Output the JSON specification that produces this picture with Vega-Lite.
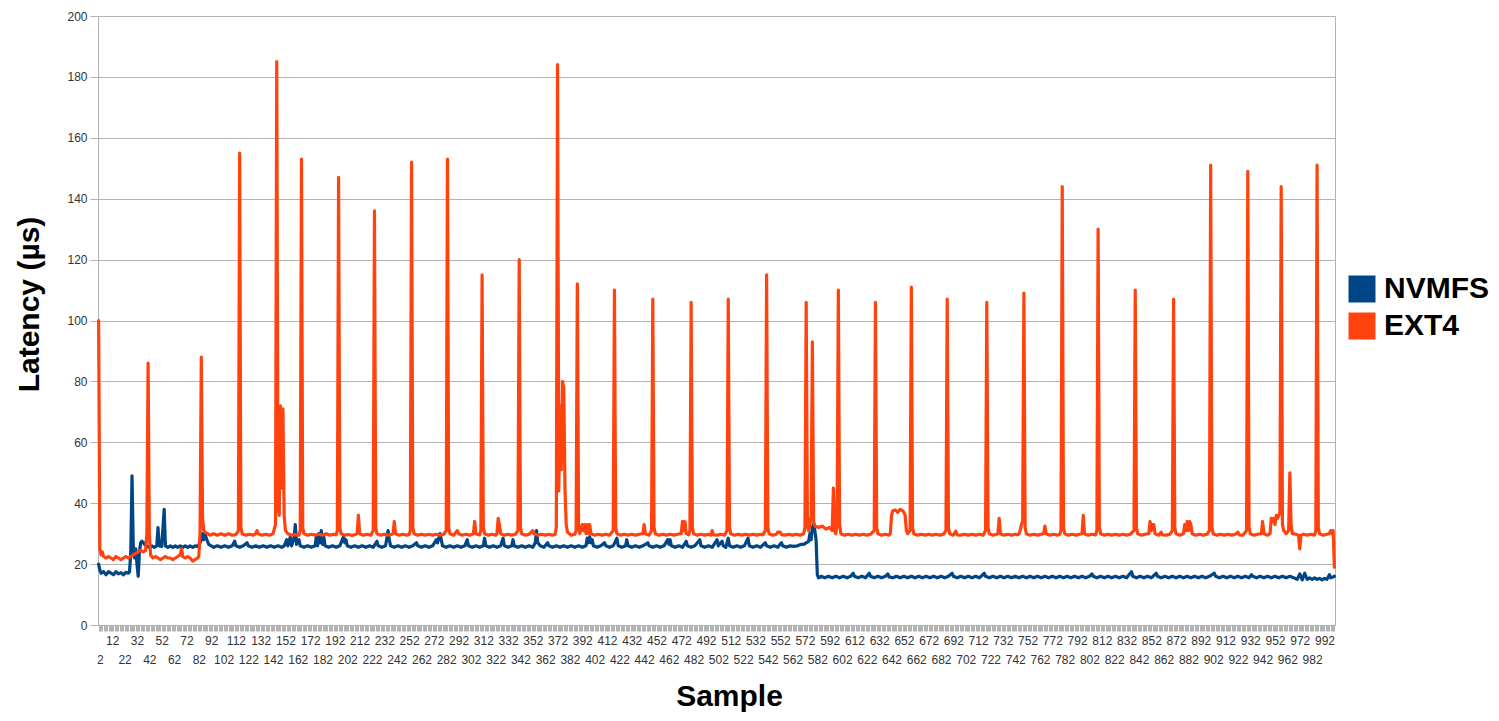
{
"$schema":"https://vega.github.io/schema/vega-lite/v6.json",
"width":1237,"height":609,
"autosize":"none",
"padding":{"left":98,"top":16,"right":164,"bottom":96},
"background":"white",
"config":{"view":{"stroke":"#b3b3b3","strokeWidth":1},"font":"Liberation Sans"},
"datasets":{
"nvmfs":[{"s":1,"v":20},{"s":2,"v":18},{"s":3,"v":17},{"s":5,"v":17.5},{"s":7,"v":16.5},{"s":9,"v":17.5},{"s":11,"v":17},{"s":13,"v":16.5},{"s":15,"v":17.5},{"s":17,"v":16.8},{"s":19,"v":17.2},{"s":21,"v":16.5},{"s":23,"v":17.3},{"s":25,"v":17},{"s":26,"v":17.5},{"s":27,"v":24},{"s":28,"v":49},{"s":29,"v":26},{"s":30,"v":22},{"s":31,"v":25},{"s":32,"v":20},{"s":33,"v":16},{"s":34,"v":24},{"s":35,"v":27},{"s":36,"v":27.5},{"s":37,"v":27.2},{"s":38,"v":26.5},{"s":40,"v":26},{"s":42,"v":25.5},{"s":44,"v":26},{"s":46,"v":25.5},{"s":48,"v":26},{"s":49,"v":32},{"s":50,"v":26},{"s":52,"v":25.8},{"s":54,"v":38},{"s":55,"v":26},{"s":57,"v":25.5},{"s":59,"v":26},{"s":61,"v":25.5},{"s":63,"v":26},{"s":65,"v":25.5},{"s":67,"v":26},{"s":69,"v":25.5},{"s":71,"v":26},{"s":73,"v":25.5},{"s":75,"v":26},{"s":77,"v":25.5},{"s":79,"v":26},{"s":81,"v":25.8},{"s":83,"v":27},{"s":84,"v":28},{"s":85,"v":30},{"s":86,"v":28},{"s":87,"v":30},{"s":88,"v":28.5},{"s":89,"v":27.5},{"s":90,"v":26.5},{"s":92,"v":26},{"s":94,"v":25.5},{"s":97,"v":26},{"s":100,"v":25.5},{"s":103,"v":26},{"s":106,"v":25.5},{"s":109,"v":26},{"s":111,"v":27.5},{"s":112,"v":26},{"s":115,"v":25.5},{"s":118,"v":26},{"s":121,"v":27},{"s":122,"v":26},{"s":125,"v":25.5},{"s":128,"v":26},{"s":131,"v":25.5},{"s":134,"v":26},{"s":137,"v":25.5},{"s":140,"v":26},{"s":143,"v":25.5},{"s":146,"v":26},{"s":149,"v":25.5},{"s":151,"v":26},{"s":153,"v":28},{"s":154,"v":26},{"s":156,"v":29},{"s":157,"v":26},{"s":159,"v":28.5},{"s":160,"v":33},{"s":161,"v":26.5},{"s":163,"v":28},{"s":164,"v":26},{"s":167,"v":25.5},{"s":170,"v":26},{"s":173,"v":25.5},{"s":176,"v":26},{"s":177,"v":29},{"s":178,"v":26},{"s":179,"v":30},{"s":180,"v":27},{"s":181,"v":31},{"s":182,"v":26.5},{"s":183,"v":29},{"s":184,"v":26},{"s":187,"v":25.5},{"s":190,"v":26},{"s":193,"v":25.5},{"s":196,"v":26},{"s":199,"v":29},{"s":200,"v":27},{"s":201,"v":28},{"s":202,"v":26},{"s":205,"v":25.5},{"s":208,"v":26},{"s":211,"v":25.5},{"s":214,"v":26},{"s":217,"v":25.5},{"s":220,"v":26},{"s":223,"v":25.5},{"s":226,"v":27.5},{"s":227,"v":26},{"s":230,"v":25.5},{"s":233,"v":26},{"s":235,"v":31},{"s":236,"v":28},{"s":237,"v":26},{"s":240,"v":25.5},{"s":243,"v":26},{"s":246,"v":25.5},{"s":249,"v":26},{"s":252,"v":25.5},{"s":255,"v":26},{"s":258,"v":27},{"s":259,"v":26},{"s":262,"v":25.5},{"s":265,"v":26},{"s":268,"v":25.5},{"s":271,"v":26},{"s":274,"v":28},{"s":275,"v":27},{"s":276,"v":28.5},{"s":277,"v":30},{"s":278,"v":28},{"s":279,"v":26},{"s":282,"v":25.5},{"s":285,"v":26},{"s":288,"v":25.5},{"s":291,"v":26},{"s":294,"v":25.5},{"s":297,"v":26},{"s":299,"v":28},{"s":300,"v":26},{"s":303,"v":25.5},{"s":306,"v":26},{"s":309,"v":25.5},{"s":312,"v":26},{"s":313,"v":28.5},{"s":314,"v":26},{"s":317,"v":25.5},{"s":320,"v":26},{"s":323,"v":25.5},{"s":326,"v":26},{"s":328,"v":28.5},{"s":329,"v":26},{"s":332,"v":25.5},{"s":335,"v":26},{"s":336,"v":28},{"s":337,"v":26},{"s":340,"v":25.5},{"s":343,"v":26},{"s":346,"v":25.5},{"s":349,"v":26},{"s":352,"v":25.5},{"s":354,"v":27},{"s":355,"v":31},{"s":356,"v":27},{"s":358,"v":26},{"s":361,"v":25.5},{"s":364,"v":27},{"s":365,"v":26},{"s":368,"v":25.5},{"s":371,"v":26},{"s":374,"v":25.5},{"s":377,"v":26},{"s":380,"v":25.5},{"s":383,"v":26},{"s":386,"v":25.5},{"s":389,"v":26},{"s":392,"v":25.5},{"s":395,"v":26},{"s":396,"v":28.5},{"s":397,"v":27},{"s":398,"v":29},{"s":399,"v":27},{"s":400,"v":28},{"s":401,"v":26},{"s":404,"v":25.5},{"s":407,"v":26},{"s":410,"v":27},{"s":411,"v":26},{"s":414,"v":25.5},{"s":417,"v":26},{"s":420,"v":28.5},{"s":421,"v":26},{"s":424,"v":25.5},{"s":427,"v":26},{"s":428,"v":28},{"s":429,"v":26},{"s":432,"v":25.5},{"s":435,"v":26},{"s":438,"v":25.5},{"s":441,"v":26},{"s":445,"v":27},{"s":446,"v":26},{"s":449,"v":25.5},{"s":452,"v":26},{"s":455,"v":25.5},{"s":458,"v":26},{"s":461,"v":28},{"s":462,"v":26.5},{"s":463,"v":28},{"s":464,"v":26},{"s":467,"v":25.5},{"s":470,"v":26},{"s":473,"v":25.5},{"s":476,"v":27.5},{"s":477,"v":26},{"s":480,"v":25.5},{"s":483,"v":26},{"s":487,"v":28},{"s":488,"v":26},{"s":491,"v":25.5},{"s":494,"v":26},{"s":497,"v":25.5},{"s":501,"v":28},{"s":502,"v":26},{"s":505,"v":27.5},{"s":506,"v":26},{"s":508,"v":25.5},{"s":510,"v":28.5},{"s":511,"v":26},{"s":514,"v":25.5},{"s":517,"v":26},{"s":520,"v":25.5},{"s":523,"v":26},{"s":526,"v":28.5},{"s":527,"v":26},{"s":530,"v":25.5},{"s":533,"v":26},{"s":536,"v":25.5},{"s":540,"v":27},{"s":541,"v":26},{"s":544,"v":25.5},{"s":547,"v":26},{"s":550,"v":25.5},{"s":553,"v":27},{"s":554,"v":26},{"s":557,"v":25.5},{"s":560,"v":26},{"s":563,"v":25.8},{"s":566,"v":26},{"s":569,"v":26.5},{"s":571,"v":26.5},{"s":573,"v":27},{"s":575,"v":27.5},{"s":576,"v":30},{"s":577,"v":28},{"s":578,"v":32},{"s":579,"v":33},{"s":580,"v":31},{"s":581,"v":28},{"s":582,"v":16.5},{"s":583,"v":15.5},{"s":585,"v":16},{"s":588,"v":15.5},{"s":591,"v":16},{"s":594,"v":15.5},{"s":597,"v":16},{"s":600,"v":15.5},{"s":603,"v":16},{"s":606,"v":15.5},{"s":609,"v":16},{"s":611,"v":17},{"s":612,"v":16},{"s":615,"v":15.5},{"s":618,"v":16},{"s":621,"v":15.5},{"s":624,"v":17},{"s":625,"v":16},{"s":628,"v":15.5},{"s":631,"v":16},{"s":634,"v":15.5},{"s":637,"v":16},{"s":639,"v":16.8},{"s":640,"v":15.8},{"s":643,"v":15.5},{"s":646,"v":16},{"s":649,"v":15.5},{"s":652,"v":16},{"s":655,"v":15.5},{"s":658,"v":16},{"s":661,"v":15.5},{"s":664,"v":16},{"s":667,"v":15.5},{"s":670,"v":16},{"s":673,"v":15.5},{"s":676,"v":16},{"s":679,"v":15.5},{"s":682,"v":16},{"s":685,"v":15.5},{"s":688,"v":16},{"s":691,"v":17},{"s":692,"v":16},{"s":695,"v":15.5},{"s":698,"v":16},{"s":701,"v":15.5},{"s":704,"v":16},{"s":707,"v":15.5},{"s":710,"v":16},{"s":713,"v":15.5},{"s":717,"v":17},{"s":718,"v":16},{"s":721,"v":15.5},{"s":724,"v":16},{"s":727,"v":15.5},{"s":730,"v":16},{"s":733,"v":15.5},{"s":736,"v":16},{"s":739,"v":15.5},{"s":742,"v":16},{"s":745,"v":15.5},{"s":748,"v":16},{"s":751,"v":15.5},{"s":754,"v":16},{"s":757,"v":15.5},{"s":760,"v":16},{"s":763,"v":15.5},{"s":766,"v":16},{"s":769,"v":15.5},{"s":772,"v":16},{"s":775,"v":15.5},{"s":778,"v":16},{"s":781,"v":15.5},{"s":784,"v":16},{"s":787,"v":15.5},{"s":790,"v":16},{"s":793,"v":15.5},{"s":796,"v":16},{"s":799,"v":15.5},{"s":802,"v":16},{"s":804,"v":16.8},{"s":805,"v":16},{"s":808,"v":15.5},{"s":811,"v":16},{"s":814,"v":15.5},{"s":817,"v":16},{"s":820,"v":15.5},{"s":823,"v":16},{"s":826,"v":15.5},{"s":829,"v":16},{"s":832,"v":15.5},{"s":836,"v":17.5},{"s":837,"v":16},{"s":840,"v":15.5},{"s":843,"v":16},{"s":846,"v":15.5},{"s":849,"v":16},{"s":852,"v":15.5},{"s":856,"v":17},{"s":857,"v":16},{"s":860,"v":15.5},{"s":863,"v":16},{"s":866,"v":15.5},{"s":869,"v":16},{"s":872,"v":15.5},{"s":875,"v":16},{"s":878,"v":15.5},{"s":881,"v":16},{"s":884,"v":15.5},{"s":887,"v":16},{"s":890,"v":15.5},{"s":893,"v":16},{"s":896,"v":15.5},{"s":899,"v":16},{"s":903,"v":17},{"s":904,"v":16},{"s":907,"v":15.5},{"s":910,"v":16},{"s":913,"v":15.5},{"s":916,"v":16},{"s":919,"v":15.5},{"s":922,"v":16},{"s":925,"v":15.5},{"s":928,"v":16},{"s":931,"v":15.5},{"s":933,"v":16.5},{"s":934,"v":16},{"s":937,"v":15.5},{"s":940,"v":16},{"s":943,"v":15.5},{"s":946,"v":16},{"s":949,"v":15.5},{"s":952,"v":16},{"s":955,"v":15.5},{"s":958,"v":16},{"s":961,"v":15.5},{"s":964,"v":16},{"s":967,"v":15.5},{"s":970,"v":15},{"s":972,"v":16.8},{"s":974,"v":14.8},{"s":976,"v":17},{"s":978,"v":15},{"s":980,"v":15.5},{"s":982,"v":15},{"s":984,"v":15.5},{"s":986,"v":15},{"s":988,"v":15.3},{"s":990,"v":14.8},{"s":992,"v":15.3},{"s":994,"v":15},{"s":996,"v":16.5},{"s":997,"v":15.5},{"s":999,"v":15.8},{"s":1000,"v":16}],
"ext4":[{"s":1,"v":100},{"s":2,"v":25},{"s":3,"v":23},{"s":4,"v":24},{"s":5,"v":22.5},{"s":7,"v":22},{"s":9,"v":22.5},{"s":11,"v":22},{"s":13,"v":21.5},{"s":15,"v":22.5},{"s":17,"v":22},{"s":19,"v":21.5},{"s":21,"v":22},{"s":23,"v":22.5},{"s":25,"v":22},{"s":27,"v":22.5},{"s":29,"v":23},{"s":31,"v":23.5},{"s":33,"v":24},{"s":35,"v":24.5},{"s":37,"v":24},{"s":39,"v":24.5},{"s":40,"v":30},{"s":41,"v":86},{"s":42,"v":30},{"s":43,"v":23},{"s":45,"v":22},{"s":47,"v":22.5},{"s":49,"v":22},{"s":51,"v":21.5},{"s":53,"v":22},{"s":55,"v":22.5},{"s":57,"v":22},{"s":59,"v":22},{"s":61,"v":21.5},{"s":63,"v":22},{"s":65,"v":22.5},{"s":67,"v":23},{"s":68,"v":25},{"s":69,"v":22.5},{"s":71,"v":22},{"s":73,"v":22.5},{"s":75,"v":22},{"s":77,"v":21},{"s":79,"v":21.5},{"s":81,"v":22},{"s":82,"v":22.5},{"s":83,"v":30},{"s":84,"v":88},{"s":85,"v":35},{"s":86,"v":31},{"s":87,"v":30.5},{"s":89,"v":30},{"s":91,"v":29.5},{"s":94,"v":30},{"s":97,"v":29.5},{"s":100,"v":30},{"s":103,"v":29.5},{"s":106,"v":30},{"s":109,"v":29.5},{"s":112,"v":29.7},{"s":114,"v":31},{"s":115,"v":155},{"s":116,"v":32},{"s":117,"v":30},{"s":120,"v":29.5},{"s":123,"v":29.8},{"s":126,"v":29.5},{"s":128,"v":30},{"s":129,"v":31},{"s":130,"v":30},{"s":133,"v":29.5},{"s":136,"v":29.8},{"s":139,"v":29.5},{"s":142,"v":30},{"s":144,"v":33},{"s":145,"v":185},{"s":146,"v":40},{"s":147,"v":36},{"s":148,"v":72},{"s":149,"v":45},{"s":150,"v":71},{"s":151,"v":36},{"s":152,"v":31},{"s":154,"v":30},{"s":157,"v":29.5},{"s":160,"v":29.7},{"s":163,"v":29.5},{"s":164,"v":31},{"s":165,"v":153},{"s":166,"v":32},{"s":167,"v":30},{"s":170,"v":29.5},{"s":173,"v":29.8},{"s":176,"v":29.5},{"s":179,"v":29.8},{"s":182,"v":29.5},{"s":185,"v":30},{"s":188,"v":29.5},{"s":191,"v":29.8},{"s":193,"v":29.6},{"s":194,"v":31},{"s":195,"v":147},{"s":196,"v":32},{"s":197,"v":30},{"s":200,"v":29.5},{"s":203,"v":29.7},{"s":206,"v":29.4},{"s":209,"v":29.8},{"s":210,"v":30},{"s":211,"v":36},{"s":212,"v":30},{"s":215,"v":29.5},{"s":218,"v":29.8},{"s":221,"v":29.5},{"s":223,"v":31},{"s":224,"v":136},{"s":225,"v":32},{"s":226,"v":30},{"s":229,"v":29.5},{"s":232,"v":29.8},{"s":235,"v":29.5},{"s":238,"v":29.8},{"s":239,"v":30},{"s":240,"v":34},{"s":241,"v":30},{"s":244,"v":29.5},{"s":247,"v":29.8},{"s":250,"v":29.5},{"s":252,"v":29.7},{"s":253,"v":31},{"s":254,"v":152},{"s":255,"v":32},{"s":256,"v":30},{"s":259,"v":29.5},{"s":262,"v":29.8},{"s":265,"v":29.5},{"s":268,"v":29.8},{"s":271,"v":29.5},{"s":274,"v":29.8},{"s":277,"v":29.5},{"s":280,"v":29.8},{"s":282,"v":31},{"s":283,"v":153},{"s":284,"v":32},{"s":285,"v":30},{"s":288,"v":29.5},{"s":291,"v":31},{"s":292,"v":30},{"s":295,"v":29.5},{"s":298,"v":29.8},{"s":301,"v":29.5},{"s":304,"v":30},{"s":305,"v":34},{"s":306,"v":30},{"s":309,"v":29.6},{"s":310,"v":31},{"s":311,"v":115},{"s":312,"v":32},{"s":313,"v":30},{"s":316,"v":29.5},{"s":319,"v":29.8},{"s":322,"v":29.5},{"s":323,"v":30},{"s":324,"v":35},{"s":325,"v":33},{"s":326,"v":30},{"s":329,"v":29.5},{"s":332,"v":29.8},{"s":335,"v":29.5},{"s":338,"v":29.8},{"s":340,"v":31},{"s":341,"v":120},{"s":342,"v":32},{"s":343,"v":30},{"s":346,"v":29.5},{"s":349,"v":29.8},{"s":352,"v":31},{"s":353,"v":30},{"s":356,"v":29.5},{"s":359,"v":29.8},{"s":362,"v":29.5},{"s":365,"v":29.8},{"s":368,"v":29.5},{"s":370,"v":29.7},{"s":371,"v":32},{"s":372,"v":184},{"s":373,"v":44},{"s":374,"v":72},{"s":375,"v":51},{"s":376,"v":80},{"s":377,"v":78},{"s":378,"v":45},{"s":379,"v":33},{"s":380,"v":30.5},{"s":383,"v":29.5},{"s":386,"v":29.8},{"s":387,"v":31},{"s":388,"v":112},{"s":389,"v":32},{"s":390,"v":30},{"s":392,"v":33},{"s":393,"v":31},{"s":394,"v":33},{"s":395,"v":30},{"s":396,"v":33},{"s":397,"v":30},{"s":398,"v":33},{"s":399,"v":30},{"s":402,"v":29.5},{"s":405,"v":29.8},{"s":408,"v":29.5},{"s":411,"v":29.8},{"s":414,"v":29.5},{"s":417,"v":31},{"s":418,"v":110},{"s":419,"v":32},{"s":420,"v":30},{"s":423,"v":29.5},{"s":426,"v":29.8},{"s":429,"v":29.5},{"s":432,"v":29.8},{"s":435,"v":29.5},{"s":438,"v":29.8},{"s":441,"v":30},{"s":442,"v":33},{"s":443,"v":30},{"s":446,"v":29.5},{"s":448,"v":31},{"s":449,"v":107},{"s":450,"v":32},{"s":451,"v":30},{"s":454,"v":29.5},{"s":457,"v":29.8},{"s":460,"v":29.5},{"s":463,"v":29.8},{"s":466,"v":29.5},{"s":469,"v":29.8},{"s":472,"v":30},{"s":473,"v":34},{"s":474,"v":31},{"s":475,"v":34},{"s":476,"v":30},{"s":478,"v":29.6},{"s":479,"v":31},{"s":480,"v":106},{"s":481,"v":32},{"s":482,"v":30},{"s":485,"v":29.5},{"s":488,"v":29.8},{"s":491,"v":29.5},{"s":494,"v":29.8},{"s":496,"v":29.5},{"s":497,"v":31},{"s":498,"v":29.6},{"s":501,"v":29.5},{"s":504,"v":29.8},{"s":507,"v":29.5},{"s":509,"v":31},{"s":510,"v":107},{"s":511,"v":32},{"s":512,"v":30},{"s":515,"v":29.5},{"s":518,"v":29.8},{"s":521,"v":29.5},{"s":524,"v":29.8},{"s":527,"v":29.5},{"s":530,"v":29.8},{"s":533,"v":29.5},{"s":536,"v":29.8},{"s":538,"v":29.6},{"s":540,"v":31},{"s":541,"v":115},{"s":542,"v":32},{"s":543,"v":30},{"s":546,"v":29.5},{"s":549,"v":29.8},{"s":550,"v":30.5},{"s":552,"v":30.5},{"s":553,"v":29.7},{"s":556,"v":29.5},{"s":559,"v":29.8},{"s":562,"v":29.5},{"s":565,"v":29.8},{"s":568,"v":29.5},{"s":571,"v":30},{"s":572,"v":32},{"s":573,"v":106},{"s":574,"v":33},{"s":575,"v":31},{"s":576,"v":33},{"s":577,"v":36},{"s":578,"v":93},{"s":579,"v":34},{"s":580,"v":32.5},{"s":583,"v":32},{"s":586,"v":32.5},{"s":589,"v":31.5},{"s":592,"v":32},{"s":594,"v":31},{"s":595,"v":45},{"s":596,"v":31},{"s":597,"v":30},{"s":598,"v":33},{"s":599,"v":110},{"s":600,"v":33},{"s":601,"v":30},{"s":604,"v":29.5},{"s":607,"v":29.8},{"s":610,"v":29.5},{"s":613,"v":29.8},{"s":616,"v":29.5},{"s":619,"v":29.8},{"s":622,"v":29.5},{"s":625,"v":29.8},{"s":628,"v":31},{"s":629,"v":106},{"s":630,"v":32},{"s":631,"v":30},{"s":634,"v":29.5},{"s":637,"v":29.8},{"s":640,"v":29.5},{"s":641,"v":30},{"s":642,"v":36},{"s":643,"v":37.5},{"s":645,"v":37.8},{"s":647,"v":37},{"s":649,"v":38},{"s":651,"v":37.5},{"s":652,"v":37},{"s":653,"v":36},{"s":654,"v":31},{"s":655,"v":30},{"s":657,"v":31},{"s":658,"v":111},{"s":659,"v":32},{"s":660,"v":30},{"s":663,"v":29.5},{"s":666,"v":29.8},{"s":669,"v":29.5},{"s":672,"v":29.8},{"s":675,"v":29.5},{"s":678,"v":29.8},{"s":681,"v":29.5},{"s":684,"v":29.8},{"s":686,"v":31},{"s":687,"v":107},{"s":688,"v":32},{"s":689,"v":30},{"s":692,"v":29.5},{"s":694,"v":30.8},{"s":695,"v":29.6},{"s":698,"v":29.5},{"s":701,"v":29.8},{"s":704,"v":29.5},{"s":707,"v":29.8},{"s":710,"v":29.5},{"s":713,"v":29.8},{"s":716,"v":29.5},{"s":718,"v":31},{"s":719,"v":106},{"s":720,"v":32},{"s":721,"v":30},{"s":724,"v":29.5},{"s":727,"v":29.8},{"s":728,"v":30},{"s":729,"v":35},{"s":730,"v":30},{"s":733,"v":29.5},{"s":736,"v":29.8},{"s":739,"v":29.5},{"s":742,"v":29.8},{"s":744,"v":29.6},{"s":745,"v":30},{"s":746,"v":31},{"s":747,"v":33},{"s":748,"v":34},{"s":749,"v":109},{"s":750,"v":32},{"s":751,"v":30},{"s":754,"v":29.5},{"s":757,"v":29.8},{"s":760,"v":29.5},{"s":763,"v":29.8},{"s":765,"v":30},{"s":766,"v":32.5},{"s":767,"v":30},{"s":770,"v":29.5},{"s":773,"v":29.8},{"s":776,"v":29.5},{"s":778,"v":29.8},{"s":779,"v":31},{"s":780,"v":144},{"s":781,"v":32},{"s":782,"v":30},{"s":785,"v":29.5},{"s":788,"v":29.8},{"s":791,"v":29.5},{"s":794,"v":29.8},{"s":796,"v":30},{"s":797,"v":36},{"s":798,"v":30},{"s":801,"v":29.5},{"s":804,"v":29.8},{"s":807,"v":29.6},{"s":808,"v":31},{"s":809,"v":130},{"s":810,"v":32},{"s":811,"v":30},{"s":814,"v":29.5},{"s":817,"v":29.8},{"s":820,"v":29.5},{"s":823,"v":29.8},{"s":826,"v":29.5},{"s":829,"v":29.8},{"s":832,"v":29.5},{"s":835,"v":29.8},{"s":838,"v":31},{"s":839,"v":110},{"s":840,"v":32},{"s":841,"v":30},{"s":844,"v":29.5},{"s":847,"v":29.8},{"s":850,"v":30},{"s":851,"v":34},{"s":852,"v":31},{"s":853,"v":33},{"s":854,"v":33},{"s":855,"v":30},{"s":858,"v":29.5},{"s":860,"v":30.5},{"s":861,"v":29.6},{"s":864,"v":29.5},{"s":867,"v":29.8},{"s":869,"v":31},{"s":870,"v":107},{"s":871,"v":32},{"s":872,"v":30},{"s":875,"v":29.5},{"s":878,"v":30},{"s":879,"v":33},{"s":880,"v":31},{"s":881,"v":34},{"s":882,"v":31},{"s":883,"v":34},{"s":884,"v":33},{"s":885,"v":30},{"s":888,"v":29.5},{"s":891,"v":29.8},{"s":894,"v":29.5},{"s":897,"v":29.8},{"s":899,"v":31},{"s":900,"v":151},{"s":901,"v":32},{"s":902,"v":30},{"s":905,"v":29.5},{"s":908,"v":29.8},{"s":911,"v":29.5},{"s":914,"v":29.8},{"s":917,"v":29.5},{"s":920,"v":29.8},{"s":922,"v":30.5},{"s":923,"v":29.6},{"s":926,"v":29.5},{"s":929,"v":31},{"s":930,"v":149},{"s":931,"v":32},{"s":932,"v":30},{"s":935,"v":29.5},{"s":938,"v":29.8},{"s":941,"v":30},{"s":942,"v":34},{"s":943,"v":30},{"s":946,"v":29.5},{"s":948,"v":30},{"s":949,"v":35},{"s":950,"v":34},{"s":951,"v":35},{"s":952,"v":33},{"s":953,"v":36},{"s":954,"v":35},{"s":955,"v":36},{"s":956,"v":37},{"s":957,"v":144},{"s":958,"v":33},{"s":959,"v":31},{"s":961,"v":30},{"s":963,"v":31},{"s":964,"v":50},{"s":965,"v":33},{"s":966,"v":30},{"s":969,"v":29.8},{"s":971,"v":29.5},{"s":972,"v":25},{"s":973,"v":29.5},{"s":975,"v":29.8},{"s":978,"v":29.5},{"s":981,"v":29.8},{"s":984,"v":29.5},{"s":985,"v":31},{"s":986,"v":151},{"s":987,"v":32},{"s":988,"v":30},{"s":991,"v":29.5},{"s":994,"v":29.8},{"s":996,"v":30},{"s":997,"v":31},{"s":998,"v":30},{"s":999,"v":31},{"s":1000,"v":19}]
},
"encoding":{
"x":{"field":"s","type":"quantitative","title":"Sample","scale":{"domain":[0.5,1000.5],"nice":false,"zero":false},
"axis":{"tickCount":1000,"labelExpr":"datum.value % 20 == 12 ? datum.label : (datum.value % 20 == 2 ? ['', datum.label] : '')","labelOverlap":false,"labelFlush":false,"labelBound":false,"grid":false,"domainColor":"#b3b3b3","tickColor":"#b3b3b3","tickSize":6,"labelPadding":4,"labelFontSize":12,"labelColor":"#333333","labelFont":"Liberation Sans","labelLineHeight":19,"labelBaseline":"top","titleFont":"Liberation Sans","titleFontSize":30,"titleFontWeight":"bold","titleColor":"#000000","titleX":631,"titleY":80,"titleBaseline":"alphabetic"}},
"y":{"field":"v","type":"quantitative","title":"Latency (µs)","scale":{"domain":[0,200],"nice":false},
"axis":{"values":[0,20,40,60,80,100,120,140,160,180,200],"grid":true,"gridColor":"#b3b3b3","domainColor":"#b3b3b3","tickColor":"#b3b3b3","tickSize":8,"labelPadding":3,"labelFontSize":12,"labelColor":"#333333","labelFont":"Liberation Sans","titleFont":"Liberation Sans","titleFontSize":30,"titleFontWeight":"bold","titleColor":"#000000","titleX":-60,"titleY":288,"titleBaseline":"alphabetic"}}
},
"layer":[
{"data":{"name":"nvmfs"},"mark":{"type":"line","strokeWidth":3.2,"strokeJoin":"round","strokeCap":"round"},
"encoding":{"color":{"datum":"NVMFS","type":"nominal","scale":{"domain":["NVMFS","EXT4"],"range":["#004586","#ff420e"]},
"legend":{"orient":"none","legendX":1249,"legendY":258,"title":null,"symbolType":"square","symbolSize":729,"symbolStrokeWidth":0,"labelFontSize":30,"labelFontWeight":"bold","labelFont":"Liberation Sans","labelColor":"#000000","labelOffset":7,"rowPadding":7,"padding":0,
"encode":{"symbols":{"update":{"fill":{"scale":"color","field":"value"},"fillOpacity":{"value":1},"strokeWidth":{"value":0}}}}}}}},
{"data":{"name":"ext4"},"mark":{"type":"line","strokeWidth":3.2,"strokeJoin":"round","strokeCap":"round"},
"encoding":{"color":{"datum":"EXT4","type":"nominal"}}}
]
}
